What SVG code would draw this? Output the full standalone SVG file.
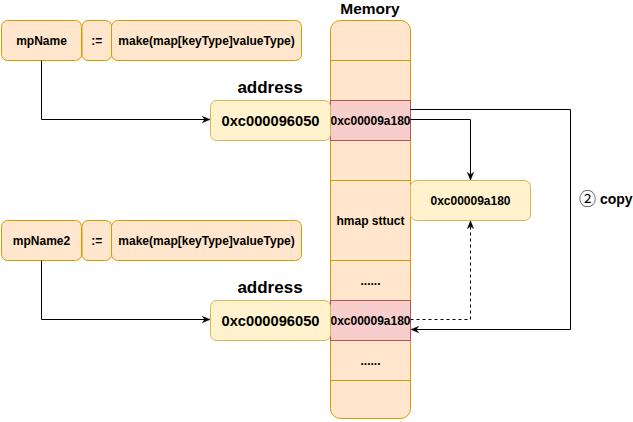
<svg xmlns="http://www.w3.org/2000/svg" width="633" height="422" viewBox="0 0 633 422">
<defs>
<style>
text{font-family:"Liberation Sans",Arial,"Noto Sans CJK SC",sans-serif;font-weight:bold;fill:#000;text-anchor:middle;dominant-baseline:central}
.or{fill:#ffe6cc;stroke:#d79b00;stroke-width:1}
.rd{fill:#f8cecc;stroke:#b85450;stroke-width:1}
.yl{fill:#fff2cc;stroke:#d6b656;stroke-width:1}
.ln{stroke:#d79b00;stroke-width:1;fill:none}
.c{fill:none;stroke:#000;stroke-width:1}
.t12{font-size:12px}
</style>
<marker id="ah" viewBox="0 0 10 10" refX="9" refY="5" markerWidth="8" markerHeight="8" orient="auto" markerUnits="userSpaceOnUse">
<path d="M0,1 L10,5 L0,9 L3,5 Z" fill="#000" stroke="#000" stroke-width="0.5"/>
</marker>
</defs>

<g id="memory">
<text x="370" y="8" font-size="15.5">Memory</text>
<rect class="or" x="330.5" y="20.5" width="80" height="398" rx="10"/>
<line class="ln" x1="330.5" y1="60.5" x2="410.5" y2="60.5"/>
<rect class="rd" x="330.5" y="100.5" width="80" height="40"/>
<text class="t12" x="370.5" y="120.5">0xc00009a180</text>
<line class="ln" x1="330.5" y1="180.5" x2="410.5" y2="180.5"/>
<text class="t12" x="370.5" y="220.5">hmap sttuct</text>
<line class="ln" x1="330.5" y1="260.5" x2="410.5" y2="260.5"/>
<text class="t12" x="370.5" y="280.5">......</text>
<rect class="rd" x="330.5" y="300.5" width="80" height="40"/>
<text class="t12" x="370.5" y="320.5">0xc00009a180</text>
<text class="t12" x="370.5" y="360.5">......</text>
<line class="ln" x1="330.5" y1="380.5" x2="410.5" y2="380.5"/>
</g>

<g id="mpName">
<rect class="or" x="1.5" y="20.5" width="80" height="40" rx="6"/>
<text class="t12" x="41.5" y="40.5">mpName</text>
</g>
<g id="assign1">
<rect class="or" x="82" y="20.5" width="29.5" height="40" rx="6"/>
<text class="t12" x="96.7" y="40.5">:=</text>
</g>
<g id="make1">
<rect class="or" x="111.5" y="20.5" width="190" height="40" rx="6"/>
<text class="t12" x="206.5" y="40.5">make(map[keyType]valueType)</text>
</g>
<g id="address1">
<text x="270" y="87" font-size="17">address</text>
<rect class="yl" x="210.5" y="100.5" width="120" height="40" rx="6"/>
<text x="270.5" y="120.5" font-size="14.7">0xc000096050</text>
</g>

<g id="mpName2">
<rect class="or" x="1.5" y="220.5" width="80" height="40" rx="6"/>
<text class="t12" x="41.5" y="240.5">mpName2</text>
</g>
<g id="assign2">
<rect class="or" x="82" y="220.5" width="29.5" height="40" rx="6"/>
<text class="t12" x="96.7" y="240.5">:=</text>
</g>
<g id="make2">
<rect class="or" x="111.5" y="220.5" width="190" height="40" rx="6"/>
<text class="t12" x="206.5" y="240.5">make(map[keyType]valueType)</text>
</g>
<g id="address2">
<text x="270" y="287" font-size="17">address</text>
<rect class="yl" x="210.5" y="300.5" width="120" height="40" rx="6"/>
<text x="270.5" y="320.5" font-size="14.7">0xc000096050</text>
</g>

<g id="hmap">
<rect class="yl" x="410.5" y="180.5" width="120" height="40" rx="6"/>
<text class="t12" x="470.5" y="200.5">0xc00009a180</text>
</g>

<g id="copyLabel">
<text x="579" y="199" font-size="14" style="text-anchor:start"><tspan font-size="17" font-weight="normal">②</tspan> copy</text>
</g>

<g id="connectors">
<path class="c" d="M41.5,60.5 V119.5 H209.5" marker-end="url(#ah)"/>
<path class="c" d="M41.5,260.5 V319.5 H209.5" marker-end="url(#ah)"/>
<path class="c" d="M410.5,119.5 H470.5 V179.5" marker-end="url(#ah)"/>
<path class="c" d="M410.5,109.5 H570.5 V329.5 H411.5" marker-end="url(#ah)"/>
<path class="c" d="M410.5,319.5 H470.5 V221.5" stroke-dasharray="3 3" marker-end="url(#ah)"/>
</g>
</svg>
